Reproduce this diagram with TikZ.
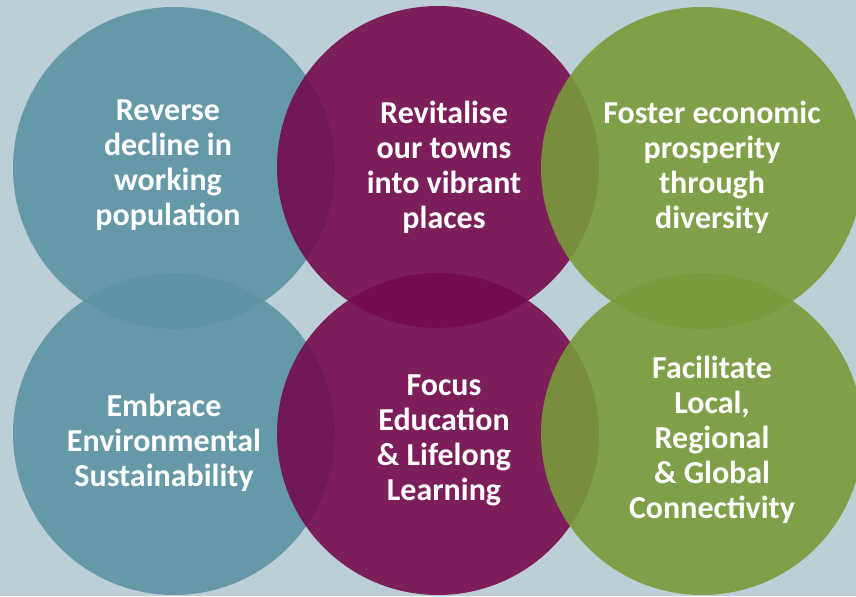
\documentclass[tikz,border=0pt]{standalone}
\usepackage{fontspec}
\setmainfont{Carlito}
\usepackage{tikz}
\definecolor{bgblue}{RGB}{188,207,215}
\definecolor{teal1}{RGB}{93,148,163}
\definecolor{plum1}{RGB}{116,11,76}
\definecolor{olive1}{RGB}{121,155,58}
\begin{document}
\begin{tikzpicture}[x=.3mm, y=-.3mm,
  lbl/.style={text=white, align=center, inner sep=0pt,
    font=\bfseries\fontsize{27.3}{29.9}\selectfont}]
\fill[bgblue](0,0)rectangle(856,596);
\useasboundingbox(0,0)rectangle(856,596);
\clip(0,0)rectangle(856,596);
% top row
\fill[teal1, fill opacity=.9](174,168)circle(161);
\fill[plum1, fill opacity=.9](438,167)circle(161);
\fill[olive1, fill opacity=.9](702,168)circle(161);
% bottom row
\fill[teal1, fill opacity=.9](174,434)circle(161);
\fill[plum1, fill opacity=.9](438,434)circle(161);
\fill[olive1, fill opacity=.9](702,434)circle(161);
\node[lbl] (reverse) at (168,165) {Reverse\\decline in\\working\\population};
\node[lbl] (revital) at (444,167) {Revitalise\\our towns\\into vibrant\\places};
\node[lbl] (foster) at (712,167) {Foster economic\\prosperity\\through\\diversity};
\node[lbl] (embrace) at (164,443) {Embrace\\Environmental\\Sustainability};
\node[lbl] (focus) at (444,440) {Focus\\Education\\\& Lifelong\\Learning};
\node[lbl] (facil) at (712,440) {Facilitate\\Local,\\Regional\\\& Global\\Connectivity};
\end{tikzpicture}
\end{document}
